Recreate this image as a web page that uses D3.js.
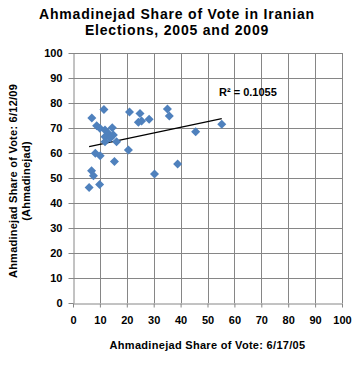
<!DOCTYPE html>
<html>
<head>
<meta charset="utf-8">
<script src="https://cdn.jsdelivr.net/npm/d3@7"></script>
<style>
  body { margin: 0; background: #fff; }
  text { font-family: "Liberation Sans", Arial, sans-serif; }
</style>
</head>
<body>
<svg id="chart" width="363" height="367"></svg>
<script>
// vote share by province, 2005 (x) vs 2009 (y)
var share2005 = [7.0, 11.5, 8.8, 10.0, 11.9, 14.6, 13.1, 15.0, 11.9, 13.8, 16.2, 11.9,
                 21.0, 24.9, 24.3, 25.5, 28.3, 35.1, 35.8, 45.6, 55.3,
                 20.6, 15.4, 8.3, 10.1, 6.9, 7.6, 6.0, 9.9, 30.3, 38.9];
var share2009 = [74.0, 77.4, 70.9, 69.9, 69.2, 70.1, 67.9, 67.2, 66.5, 65.9, 64.5, 64.5,
                 76.4, 75.8, 72.3, 72.8, 73.5, 77.6, 74.8, 68.5, 71.5,
                 61.2, 56.6, 59.9, 58.9, 52.9, 50.9, 46.2, 47.4, 51.6, 55.6];
var xTicks = [0, 10, 20, 30, 40, 50, 60, 70, 80, 90, 100];
var yTicks = [0, 10, 20, 30, 40, 50, 60, 70, 80, 90, 100];
var titleLines = ["Ahmadinejad Share of Vote in Iranian", "Elections, 2005 and 2009"];
var yTitleLines = ["Ahmadinejad  Share of Vote: 6/12/09", "(Ahmadinejad)"];
var xTitle = "Ahmadinejad Share of Vote: 6/17/05";
var rLabel = "R\u00b2 = 0.1055";

var svg = d3.select("#chart");
var margin = {top: 53, left: 73, right: 21, bottom: 64};
var width = 363, height = 367;

var x = d3.scaleLinear().domain([0, 100]).range([margin.left, width - margin.right]);
var y = d3.scaleLinear().domain([0, 100]).range([height - margin.bottom, margin.top]);

var points = share2005.map(function(d, i) { return {x: d, y: share2009[i]}; });

// grid
svg.append("g")
  .selectAll("line.vg")
  .data(xTicks.slice(1))
  .enter().append("line")
  .attr("x1", d => Math.round(x(d)) + 0.5).attr("x2", d => Math.round(x(d)) + 0.5)
  .attr("y1", y(0)).attr("y2", y(100))
  .style("stroke", "#868686").style("stroke-width", 1);

svg.append("g")
  .selectAll("line.hg")
  .data(yTicks.slice(1))
  .enter().append("line")
  .attr("y1", d => Math.round(y(d)) + 0.5).attr("y2", d => Math.round(y(d)) + 0.5)
  .attr("x1", x(0)).attr("x2", x(100))
  .style("stroke", "#868686").style("stroke-width", 1);

// axes
var xAxis = svg.append("g")
  .attr("transform", "translate(0," + (Math.round(y(0)) + 0.5) + ")")
  .call(d3.axisBottom(x).tickValues(xTicks).tickSize(4).tickPadding(9).tickSizeOuter(0));

var yAxis = svg.append("g")
  .attr("transform", "translate(" + (Math.round(x(0)) + 0.5) + ",0)")
  .call(d3.axisLeft(y).tickValues(yTicks).tickSize(5).tickPadding(6).tickSizeOuter(0));

[xAxis, yAxis].forEach(function(g) {
  g.selectAll("path, line").style("stroke", "#868686");
  g.selectAll("text")
    .style("font-family", "Liberation Sans, Arial, sans-serif")
    .style("font-size", "11px")
    .style("font-weight", "bold")
    .style("fill", "#000");
});

// trend line (least squares)
var mx = d3.mean(share2005), my = d3.mean(share2009);
var sxy = d3.sum(points, d => (d.x - mx) * (d.y - my));
var sxx = d3.sum(points, d => (d.x - mx) * (d.x - mx));
var slope = sxy / sxx, intercept = my - slope * mx;
var xr = d3.extent(share2005);

svg.append("line")
  .attr("x1", x(xr[0])).attr("y1", y(intercept + slope * xr[0]))
  .attr("x2", x(xr[1])).attr("y2", y(intercept + slope * xr[1]))
  .style("stroke", "#000").style("stroke-width", 1.2);

// points
svg.selectAll("path.pt")
  .data(points)
  .enter().append("path")
  .attr("class", "pt")
  .attr("d", d3.symbol().type(d3.symbolDiamond2).size(52))
  .attr("transform", d => "translate(" + x(d.x) + "," + y(d.y) + ")")
  .style("fill", "#4F81BD");

// R² label
svg.append("text")
  .attr("x", 219).attr("y", 96)
  .style("font-size", "11px").style("font-weight", "bold")
  .text(rLabel);

// titles
svg.selectAll("text.title")
  .data(titleLines)
  .enter().append("text")
  .attr("class", "title")
  .attr("x", 177).attr("y", (d, i) => 19 + i * 16)
  .attr("text-anchor", "middle")
  .style("font-size", "14px").style("font-weight", "bold")
  .style("letter-spacing", "0.8px")
  .text(d => d);

svg.append("text")
  .attr("x", x(50)).attr("y", 349)
  .attr("text-anchor", "middle")
  .style("font-size", "11px").style("font-weight", "bold")
  .style("letter-spacing", "0.3px")
  .text(xTitle);

svg.selectAll("text.ytitle")
  .data(yTitleLines)
  .enter().append("text")
  .attr("class", "ytitle")
  .attr("transform", (d, i) => "translate(" + (17 + i * 13) + ",181) rotate(-90)")
  .attr("text-anchor", "middle")
  .style("font-size", "11px").style("font-weight", "bold")
  .style("letter-spacing", "0.25px")
  .text(d => d);
</script>
</body>
</html>
